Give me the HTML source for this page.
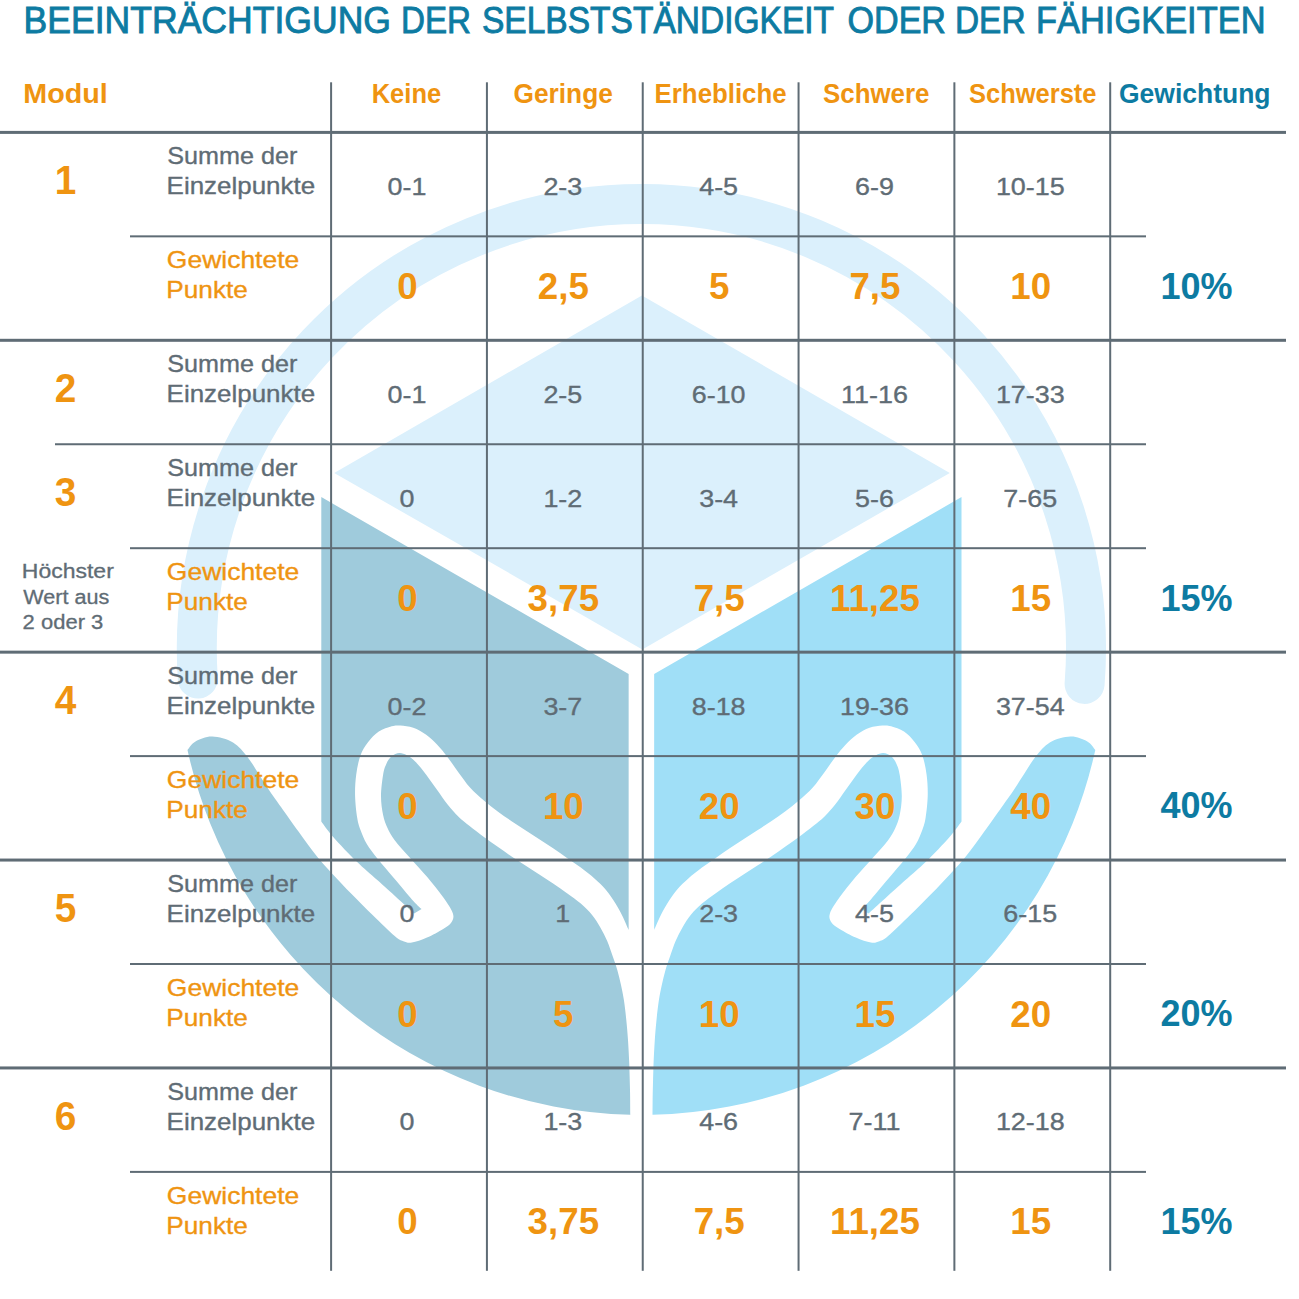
<!DOCTYPE html>
<html lang="de">
<head>
<meta charset="utf-8">
<title>Beeinträchtigung der Selbstständigkeit oder der Fähigkeiten</title>
<style>
html,body{margin:0;padding:0;background:#fff;}
body{width:1299px;height:1299px;overflow:hidden;}
svg{display:block;font-family:"Liberation Sans",sans-serif;}
</style>
</head>
<body>
<svg width="1299" height="1299" viewBox="0 0 1299 1299">
<defs>
<clipPath id="lhalf"><rect x="0" y="0" width="641.4" height="1299"/></clipPath>
<path id="hand" d="M630.3,1114.8A465.0,465.0 0 0 1 187.5,750C188.8,748.6 191.4,743.7 195.5,741.5C199.6,739.3 206.1,736.4 212.3,736.6C218.6,736.8 227.1,739.1 233.0,742.5C238.9,745.9 243.2,751.7 247.5,757.0C251.8,762.3 255.2,768.8 259.0,774.5C262.8,780.2 266.3,786.1 270.0,791.5C273.7,796.9 276.2,800.3 281.0,807.0C285.8,813.7 292.5,823.4 298.5,831.6C304.5,839.9 311.3,849.4 317.0,856.5C322.7,863.6 326.7,867.7 332.5,874.0C338.3,880.3 344.8,887.2 351.6,894.1C358.4,901.0 365.9,908.6 373.1,915.6C380.3,922.6 389.7,931.8 394.7,936.1C399.7,940.4 400.4,940.2 403.3,941.3C406.2,942.4 407.9,943.2 411.9,942.6C415.8,942.0 421.8,939.9 427.0,937.6C432.2,935.3 439.1,931.4 443.2,928.9C447.2,926.4 449.7,925.0 451.3,922.4C452.9,919.8 454.2,917.7 452.9,913.5C451.5,909.3 447.5,903.4 443.2,897.3C438.9,891.2 432.6,883.4 427.0,876.8C421.4,870.1 415.1,863.5 409.7,857.4C404.3,851.3 398.4,845.1 394.7,840.2C391.0,835.3 389.4,832.2 387.5,828.0C385.6,823.8 384.2,820.3 383.1,815.0C382.0,809.7 381.0,802.9 381.0,796.2C381.0,789.5 382.2,780.1 383.1,774.7C384.0,769.3 384.9,767.0 386.3,763.9C387.7,760.8 389.5,758.1 391.7,756.3C393.9,754.5 396.8,753.3 399.3,753.1C401.8,752.9 404.1,753.9 406.8,755.3C409.5,756.7 412.2,758.5 415.4,761.7C418.6,764.9 422.6,770.0 426.2,774.7C429.8,779.4 433.4,784.8 437.0,789.8C440.6,794.8 444.2,800.3 447.8,804.8C451.4,809.3 454.9,813.2 458.5,816.7C462.1,820.2 465.1,822.4 469.3,825.8C473.5,829.2 479.2,833.6 483.9,837.1C488.6,840.6 493.1,843.6 497.7,846.8C502.3,850.0 507.0,853.4 511.6,856.5C516.2,859.6 520.8,862.5 525.4,865.5C530.0,868.5 534.7,871.5 539.3,874.5C543.9,877.5 548.5,880.4 553.1,883.5C557.7,886.6 562.4,889.9 567.0,893.2C571.6,896.6 576.6,900.0 580.8,903.6C584.9,907.2 588.7,910.8 591.9,914.7C595.1,918.6 597.7,922.8 600.2,927.2C602.8,931.6 605.1,936.1 607.2,941.0C609.3,945.9 611.0,951.5 612.7,956.3C614.4,961.1 615.9,965.2 617.3,970.0C618.7,974.8 619.9,980.0 621.0,985.0C622.1,990.0 623.0,994.2 623.9,1000.0C624.8,1005.8 625.6,1013.3 626.3,1020.0C627.0,1026.7 627.5,1032.5 628.0,1040.0C628.5,1047.5 629.0,1056.7 629.3,1065.0C629.6,1073.3 629.8,1081.7 630.0,1090.0C630.2,1098.3 630.2,1110.7 630.3,1114.8Z"/>
<path id="face" d="M321.3,497.1L628.65,674L628.65,930C627.6,927.7 624.6,920.5 622.4,916.1C620.2,911.7 618.3,908.0 615.5,903.6C612.7,899.2 609.3,893.9 605.8,889.8C602.3,885.6 598.9,882.4 594.7,878.7C590.5,875.0 585.4,871.1 580.8,867.6C576.2,864.1 571.6,861.1 567.0,857.9C562.4,854.7 557.7,851.3 553.1,848.2C548.5,845.1 543.9,842.2 539.3,839.2C534.7,836.2 530.0,833.2 525.4,830.2C520.8,827.2 516.2,824.3 511.6,821.2C507.0,818.1 502.3,815.0 497.7,811.5C493.1,808.0 488.5,804.5 483.9,800.5C479.3,796.5 474.2,792.2 470.0,787.5C465.8,782.8 462.2,777.5 458.5,772.5C454.8,767.5 451.4,762.1 447.8,757.4C444.2,752.7 440.6,748.3 437.0,744.5C433.4,740.7 430.1,737.6 426.2,734.8C422.2,732.0 417.6,729.3 413.3,727.8C409.0,726.3 404.0,725.9 400.4,725.6C396.8,725.3 395.3,725.2 391.7,726.2C388.1,727.2 382.8,728.9 378.8,731.6C374.9,734.3 371.1,738.3 368.0,742.3C364.9,746.2 362.5,749.9 360.5,755.3C358.5,760.7 357.1,767.9 356.2,774.7C355.3,781.5 354.9,789.0 355.1,796.2C355.3,803.4 356.3,812.2 357.2,817.8C358.1,823.4 358.9,825.6 360.5,830.0C362.1,834.4 364.0,839.2 366.8,844.0C369.6,848.8 372.8,852.7 377.4,858.5C382.0,864.3 388.9,872.2 394.7,879.0C400.4,885.8 407.4,894.4 411.9,899.4C416.4,904.4 420.0,907.5 421.6,909.1L414.1,913.5C408.2,908.1 388.0,889.7 378.5,881.1C369.0,872.5 364.4,869.1 356.9,861.7C349.3,854.3 339.1,843.6 333.2,836.9C327.3,830.2 323.3,824.0 321.3,821.4Z"/>
</defs>
<rect width="1299" height="1299" fill="#fff"/>
<!-- watermark logo -->
<g id="logo">
<path d="M197.8,678.5A444.6,444.6 0 1 1 1084.6,683.9" fill="none" stroke="#dbf0fc" stroke-width="40" stroke-linecap="round"/>
<path d="M641.9,295.4L334.2,472.9L642.3,649.4L949.8,472.9Z" fill="#dbf0fc"/>
<g clip-path="url(#lhalf)">
<use href="#face" fill="#9fcbdc"/>
<use href="#hand" fill="#9fcbdc"/>
</g>
<g transform="translate(1282.8,0) scale(-1,1)"><g clip-path="url(#lhalf)">
<use href="#face" fill="#a0dff7"/>
<use href="#hand" fill="#a0dff7"/>
</g></g>
</g>

<g id="grid" fill="#5f6c75">
<rect x="330.10" y="82.3" width="2" height="1188.5"/>
<rect x="485.92" y="82.3" width="2" height="1188.5"/>
<rect x="641.74" y="82.3" width="2" height="1188.5"/>
<rect x="797.56" y="82.3" width="2" height="1188.5"/>
<rect x="953.38" y="82.3" width="2" height="1188.5"/>
<rect x="1109.20" y="82.3" width="2" height="1188.5"/>
<rect x="0" y="130.90" width="1286" height="3"/>
<rect x="130" y="235.35" width="1016" height="2"/>
<rect x="0" y="338.80" width="1286" height="3"/>
<rect x="55" y="443.25" width="1091" height="2"/>
<rect x="130" y="547.20" width="1016" height="2"/>
<rect x="0" y="650.65" width="1286" height="3"/>
<rect x="130" y="755.10" width="1016" height="2"/>
<rect x="0" y="858.55" width="1286" height="3"/>
<rect x="130" y="963.00" width="1016" height="2"/>
<rect x="0" y="1066.45" width="1286" height="3"/>
<rect x="130" y="1170.90" width="1016" height="2"/>
</g>
<g id="labels">
<text y="32.7" font-size="37.2" fill="#0d7ba2" stroke="#0d7ba2" stroke-width="0.9"><tspan x="23.5" textLength="367.5" lengthAdjust="spacingAndGlyphs">BEEINTRÄCHTIGUNG</tspan> <tspan x="401.0" textLength="70" lengthAdjust="spacingAndGlyphs">DER</tspan> <tspan x="482.0" textLength="351.5" lengthAdjust="spacingAndGlyphs">SELBSTSTÄNDIGKEIT</tspan> <tspan x="847.5" textLength="98.5" lengthAdjust="spacingAndGlyphs">ODER</tspan> <tspan x="955.0" textLength="70.5" lengthAdjust="spacingAndGlyphs">DER</tspan> <tspan x="1036.0" textLength="229.5" lengthAdjust="spacingAndGlyphs">FÄHIGKEITEN</tspan></text>
<text x="23.30" y="102.80" font-size="27" fill="#ef9411" font-weight="700" textLength="84.50" lengthAdjust="spacingAndGlyphs">Modul</text>
<text x="371.70" y="102.80" font-size="27" fill="#ef9411" font-weight="700" textLength="69.50" lengthAdjust="spacingAndGlyphs">Keine</text>
<text x="513.60" y="102.80" font-size="27" fill="#ef9411" font-weight="700" textLength="99.20" lengthAdjust="spacingAndGlyphs">Geringe</text>
<text x="654.60" y="102.80" font-size="27" fill="#ef9411" font-weight="700" textLength="132.00" lengthAdjust="spacingAndGlyphs">Erhebliche</text>
<text x="823.00" y="102.80" font-size="27" fill="#ef9411" font-weight="700" textLength="106.50" lengthAdjust="spacingAndGlyphs">Schwere</text>
<text x="969.00" y="102.80" font-size="27" fill="#ef9411" font-weight="700" textLength="127.50" lengthAdjust="spacingAndGlyphs">Schwerste</text>
<text x="1119.00" y="102.80" font-size="27" fill="#0d7ba2" font-weight="700" textLength="151.50" lengthAdjust="spacingAndGlyphs">Gewichtung</text>
<text x="65.60" y="194.20" font-size="40" fill="#ef9411" font-weight="700" text-anchor="middle" textLength="21.58" lengthAdjust="spacingAndGlyphs">1</text>
<text x="167.30" y="164.20" font-size="24" fill="#5f6c75" textLength="130.00" lengthAdjust="spacingAndGlyphs" stroke="#5f6c75" stroke-width="0.35">Summe der</text>
<text x="166.60" y="194.30" font-size="24" fill="#5f6c75" textLength="148.50" lengthAdjust="spacingAndGlyphs" stroke="#5f6c75" stroke-width="0.35">Einzelpunkte</text>
<text x="407.01" y="194.80" font-size="24" fill="#5f6c75" text-anchor="middle" textLength="38.85" lengthAdjust="spacingAndGlyphs" stroke="#5f6c75" stroke-width="0.35">0-1</text>
<text x="562.83" y="194.80" font-size="24" fill="#5f6c75" text-anchor="middle" textLength="38.85" lengthAdjust="spacingAndGlyphs" stroke="#5f6c75" stroke-width="0.35">2-3</text>
<text x="718.65" y="194.80" font-size="24" fill="#5f6c75" text-anchor="middle" textLength="38.85" lengthAdjust="spacingAndGlyphs" stroke="#5f6c75" stroke-width="0.35">4-5</text>
<text x="874.47" y="194.80" font-size="24" fill="#5f6c75" text-anchor="middle" textLength="38.85" lengthAdjust="spacingAndGlyphs" stroke="#5f6c75" stroke-width="0.35">6-9</text>
<text x="1030.29" y="194.80" font-size="24" fill="#5f6c75" text-anchor="middle" textLength="68.75" lengthAdjust="spacingAndGlyphs" stroke="#5f6c75" stroke-width="0.35">10-15</text>
<text x="166.80" y="268.15" font-size="24" fill="#ef9411" textLength="132.50" lengthAdjust="spacingAndGlyphs" stroke="#ef9411" stroke-width="0.35">Gewichtete</text>
<text x="166.30" y="298.25" font-size="24" fill="#ef9411" textLength="81.50" lengthAdjust="spacingAndGlyphs" stroke="#ef9411" stroke-width="0.35">Punkte</text>
<text x="407.51" y="298.85" font-size="36" fill="#ef9411" font-weight="700" text-anchor="middle" textLength="20.42" lengthAdjust="spacingAndGlyphs">0</text>
<text x="563.33" y="298.85" font-size="36" fill="#ef9411" font-weight="700" text-anchor="middle" textLength="51.05" lengthAdjust="spacingAndGlyphs">2,5</text>
<text x="719.15" y="298.85" font-size="36" fill="#ef9411" font-weight="700" text-anchor="middle" textLength="20.42" lengthAdjust="spacingAndGlyphs">5</text>
<text x="874.97" y="298.85" font-size="36" fill="#ef9411" font-weight="700" text-anchor="middle" textLength="51.05" lengthAdjust="spacingAndGlyphs">7,5</text>
<text x="1030.79" y="298.85" font-size="36" fill="#ef9411" font-weight="700" text-anchor="middle" textLength="40.85" lengthAdjust="spacingAndGlyphs">10</text>
<text x="1196.60" y="298.65" font-size="36" fill="#0d7ba2" font-weight="700" text-anchor="middle" textLength="72.05" lengthAdjust="spacingAndGlyphs">10%</text>
<text x="65.60" y="402.10" font-size="40" fill="#ef9411" font-weight="700" text-anchor="middle" textLength="21.58" lengthAdjust="spacingAndGlyphs">2</text>
<text x="167.30" y="372.10" font-size="24" fill="#5f6c75" textLength="130.00" lengthAdjust="spacingAndGlyphs" stroke="#5f6c75" stroke-width="0.35">Summe der</text>
<text x="166.60" y="402.20" font-size="24" fill="#5f6c75" textLength="148.50" lengthAdjust="spacingAndGlyphs" stroke="#5f6c75" stroke-width="0.35">Einzelpunkte</text>
<text x="407.01" y="402.70" font-size="24" fill="#5f6c75" text-anchor="middle" textLength="38.85" lengthAdjust="spacingAndGlyphs" stroke="#5f6c75" stroke-width="0.35">0-1</text>
<text x="562.83" y="402.70" font-size="24" fill="#5f6c75" text-anchor="middle" textLength="38.85" lengthAdjust="spacingAndGlyphs" stroke="#5f6c75" stroke-width="0.35">2-5</text>
<text x="718.65" y="402.70" font-size="24" fill="#5f6c75" text-anchor="middle" textLength="53.80" lengthAdjust="spacingAndGlyphs" stroke="#5f6c75" stroke-width="0.35">6-10</text>
<text x="874.47" y="402.70" font-size="24" fill="#5f6c75" text-anchor="middle" textLength="66.76" lengthAdjust="spacingAndGlyphs" stroke="#5f6c75" stroke-width="0.35">11-16</text>
<text x="1030.29" y="402.70" font-size="24" fill="#5f6c75" text-anchor="middle" textLength="68.75" lengthAdjust="spacingAndGlyphs" stroke="#5f6c75" stroke-width="0.35">17-33</text>
<text x="65.60" y="506.05" font-size="40" fill="#ef9411" font-weight="700" text-anchor="middle" textLength="21.58" lengthAdjust="spacingAndGlyphs">3</text>
<text x="167.30" y="476.05" font-size="24" fill="#5f6c75" textLength="130.00" lengthAdjust="spacingAndGlyphs" stroke="#5f6c75" stroke-width="0.35">Summe der</text>
<text x="166.60" y="506.15" font-size="24" fill="#5f6c75" textLength="148.50" lengthAdjust="spacingAndGlyphs" stroke="#5f6c75" stroke-width="0.35">Einzelpunkte</text>
<text x="407.01" y="506.65" font-size="24" fill="#5f6c75" text-anchor="middle" textLength="14.95" lengthAdjust="spacingAndGlyphs" stroke="#5f6c75" stroke-width="0.35">0</text>
<text x="562.83" y="506.65" font-size="24" fill="#5f6c75" text-anchor="middle" textLength="38.85" lengthAdjust="spacingAndGlyphs" stroke="#5f6c75" stroke-width="0.35">1-2</text>
<text x="718.65" y="506.65" font-size="24" fill="#5f6c75" text-anchor="middle" textLength="38.85" lengthAdjust="spacingAndGlyphs" stroke="#5f6c75" stroke-width="0.35">3-4</text>
<text x="874.47" y="506.65" font-size="24" fill="#5f6c75" text-anchor="middle" textLength="38.85" lengthAdjust="spacingAndGlyphs" stroke="#5f6c75" stroke-width="0.35">5-6</text>
<text x="1030.29" y="506.65" font-size="24" fill="#5f6c75" text-anchor="middle" textLength="53.80" lengthAdjust="spacingAndGlyphs" stroke="#5f6c75" stroke-width="0.35">7-65</text>
<text x="166.80" y="580.00" font-size="24" fill="#ef9411" textLength="132.50" lengthAdjust="spacingAndGlyphs" stroke="#ef9411" stroke-width="0.35">Gewichtete</text>
<text x="166.30" y="610.10" font-size="24" fill="#ef9411" textLength="81.50" lengthAdjust="spacingAndGlyphs" stroke="#ef9411" stroke-width="0.35">Punkte</text>
<text x="407.51" y="610.70" font-size="36" fill="#ef9411" font-weight="700" text-anchor="middle" textLength="20.42" lengthAdjust="spacingAndGlyphs">0</text>
<text x="563.33" y="610.70" font-size="36" fill="#ef9411" font-weight="700" text-anchor="middle" textLength="71.47" lengthAdjust="spacingAndGlyphs">3,75</text>
<text x="719.15" y="610.70" font-size="36" fill="#ef9411" font-weight="700" text-anchor="middle" textLength="51.05" lengthAdjust="spacingAndGlyphs">7,5</text>
<text x="874.97" y="610.70" font-size="36" fill="#ef9411" font-weight="700" text-anchor="middle" textLength="89.87" lengthAdjust="spacingAndGlyphs">11,25</text>
<text x="1030.79" y="610.70" font-size="36" fill="#ef9411" font-weight="700" text-anchor="middle" textLength="40.85" lengthAdjust="spacingAndGlyphs">15</text>
<text x="1196.60" y="610.50" font-size="36" fill="#0d7ba2" font-weight="700" text-anchor="middle" textLength="72.05" lengthAdjust="spacingAndGlyphs">15%</text>
<text x="65.60" y="713.95" font-size="40" fill="#ef9411" font-weight="700" text-anchor="middle" textLength="21.58" lengthAdjust="spacingAndGlyphs">4</text>
<text x="167.30" y="683.95" font-size="24" fill="#5f6c75" textLength="130.00" lengthAdjust="spacingAndGlyphs" stroke="#5f6c75" stroke-width="0.35">Summe der</text>
<text x="166.60" y="714.05" font-size="24" fill="#5f6c75" textLength="148.50" lengthAdjust="spacingAndGlyphs" stroke="#5f6c75" stroke-width="0.35">Einzelpunkte</text>
<text x="407.01" y="714.55" font-size="24" fill="#5f6c75" text-anchor="middle" textLength="38.85" lengthAdjust="spacingAndGlyphs" stroke="#5f6c75" stroke-width="0.35">0-2</text>
<text x="562.83" y="714.55" font-size="24" fill="#5f6c75" text-anchor="middle" textLength="38.85" lengthAdjust="spacingAndGlyphs" stroke="#5f6c75" stroke-width="0.35">3-7</text>
<text x="718.65" y="714.55" font-size="24" fill="#5f6c75" text-anchor="middle" textLength="53.80" lengthAdjust="spacingAndGlyphs" stroke="#5f6c75" stroke-width="0.35">8-18</text>
<text x="874.47" y="714.55" font-size="24" fill="#5f6c75" text-anchor="middle" textLength="68.75" lengthAdjust="spacingAndGlyphs" stroke="#5f6c75" stroke-width="0.35">19-36</text>
<text x="1030.29" y="714.55" font-size="24" fill="#5f6c75" text-anchor="middle" textLength="68.75" lengthAdjust="spacingAndGlyphs" stroke="#5f6c75" stroke-width="0.35">37-54</text>
<text x="166.80" y="787.90" font-size="24" fill="#ef9411" textLength="132.50" lengthAdjust="spacingAndGlyphs" stroke="#ef9411" stroke-width="0.35">Gewichtete</text>
<text x="166.30" y="818.00" font-size="24" fill="#ef9411" textLength="81.50" lengthAdjust="spacingAndGlyphs" stroke="#ef9411" stroke-width="0.35">Punkte</text>
<text x="407.51" y="818.60" font-size="36" fill="#ef9411" font-weight="700" text-anchor="middle" textLength="20.42" lengthAdjust="spacingAndGlyphs">0</text>
<text x="563.33" y="818.60" font-size="36" fill="#ef9411" font-weight="700" text-anchor="middle" textLength="40.85" lengthAdjust="spacingAndGlyphs">10</text>
<text x="719.15" y="818.60" font-size="36" fill="#ef9411" font-weight="700" text-anchor="middle" textLength="40.85" lengthAdjust="spacingAndGlyphs">20</text>
<text x="874.97" y="818.60" font-size="36" fill="#ef9411" font-weight="700" text-anchor="middle" textLength="40.85" lengthAdjust="spacingAndGlyphs">30</text>
<text x="1030.79" y="818.60" font-size="36" fill="#ef9411" font-weight="700" text-anchor="middle" textLength="40.85" lengthAdjust="spacingAndGlyphs">40</text>
<text x="1196.60" y="818.40" font-size="36" fill="#0d7ba2" font-weight="700" text-anchor="middle" textLength="72.05" lengthAdjust="spacingAndGlyphs">40%</text>
<text x="65.60" y="921.85" font-size="40" fill="#ef9411" font-weight="700" text-anchor="middle" textLength="21.58" lengthAdjust="spacingAndGlyphs">5</text>
<text x="167.30" y="891.85" font-size="24" fill="#5f6c75" textLength="130.00" lengthAdjust="spacingAndGlyphs" stroke="#5f6c75" stroke-width="0.35">Summe der</text>
<text x="166.60" y="921.95" font-size="24" fill="#5f6c75" textLength="148.50" lengthAdjust="spacingAndGlyphs" stroke="#5f6c75" stroke-width="0.35">Einzelpunkte</text>
<text x="407.01" y="922.45" font-size="24" fill="#5f6c75" text-anchor="middle" textLength="14.95" lengthAdjust="spacingAndGlyphs" stroke="#5f6c75" stroke-width="0.35">0</text>
<text x="562.83" y="922.45" font-size="24" fill="#5f6c75" text-anchor="middle" textLength="14.95" lengthAdjust="spacingAndGlyphs" stroke="#5f6c75" stroke-width="0.35">1</text>
<text x="718.65" y="922.45" font-size="24" fill="#5f6c75" text-anchor="middle" textLength="38.85" lengthAdjust="spacingAndGlyphs" stroke="#5f6c75" stroke-width="0.35">2-3</text>
<text x="874.47" y="922.45" font-size="24" fill="#5f6c75" text-anchor="middle" textLength="38.85" lengthAdjust="spacingAndGlyphs" stroke="#5f6c75" stroke-width="0.35">4-5</text>
<text x="1030.29" y="922.45" font-size="24" fill="#5f6c75" text-anchor="middle" textLength="53.80" lengthAdjust="spacingAndGlyphs" stroke="#5f6c75" stroke-width="0.35">6-15</text>
<text x="166.80" y="995.80" font-size="24" fill="#ef9411" textLength="132.50" lengthAdjust="spacingAndGlyphs" stroke="#ef9411" stroke-width="0.35">Gewichtete</text>
<text x="166.30" y="1025.90" font-size="24" fill="#ef9411" textLength="81.50" lengthAdjust="spacingAndGlyphs" stroke="#ef9411" stroke-width="0.35">Punkte</text>
<text x="407.51" y="1026.50" font-size="36" fill="#ef9411" font-weight="700" text-anchor="middle" textLength="20.42" lengthAdjust="spacingAndGlyphs">0</text>
<text x="563.33" y="1026.50" font-size="36" fill="#ef9411" font-weight="700" text-anchor="middle" textLength="20.42" lengthAdjust="spacingAndGlyphs">5</text>
<text x="719.15" y="1026.50" font-size="36" fill="#ef9411" font-weight="700" text-anchor="middle" textLength="40.85" lengthAdjust="spacingAndGlyphs">10</text>
<text x="874.97" y="1026.50" font-size="36" fill="#ef9411" font-weight="700" text-anchor="middle" textLength="40.85" lengthAdjust="spacingAndGlyphs">15</text>
<text x="1030.79" y="1026.50" font-size="36" fill="#ef9411" font-weight="700" text-anchor="middle" textLength="40.85" lengthAdjust="spacingAndGlyphs">20</text>
<text x="1196.60" y="1026.30" font-size="36" fill="#0d7ba2" font-weight="700" text-anchor="middle" textLength="72.05" lengthAdjust="spacingAndGlyphs">20%</text>
<text x="65.60" y="1129.75" font-size="40" fill="#ef9411" font-weight="700" text-anchor="middle" textLength="21.58" lengthAdjust="spacingAndGlyphs">6</text>
<text x="167.30" y="1099.75" font-size="24" fill="#5f6c75" textLength="130.00" lengthAdjust="spacingAndGlyphs" stroke="#5f6c75" stroke-width="0.35">Summe der</text>
<text x="166.60" y="1129.85" font-size="24" fill="#5f6c75" textLength="148.50" lengthAdjust="spacingAndGlyphs" stroke="#5f6c75" stroke-width="0.35">Einzelpunkte</text>
<text x="407.01" y="1130.35" font-size="24" fill="#5f6c75" text-anchor="middle" textLength="14.95" lengthAdjust="spacingAndGlyphs" stroke="#5f6c75" stroke-width="0.35">0</text>
<text x="562.83" y="1130.35" font-size="24" fill="#5f6c75" text-anchor="middle" textLength="38.85" lengthAdjust="spacingAndGlyphs" stroke="#5f6c75" stroke-width="0.35">1-3</text>
<text x="718.65" y="1130.35" font-size="24" fill="#5f6c75" text-anchor="middle" textLength="38.85" lengthAdjust="spacingAndGlyphs" stroke="#5f6c75" stroke-width="0.35">4-6</text>
<text x="874.47" y="1130.35" font-size="24" fill="#5f6c75" text-anchor="middle" textLength="51.81" lengthAdjust="spacingAndGlyphs" stroke="#5f6c75" stroke-width="0.35">7-11</text>
<text x="1030.29" y="1130.35" font-size="24" fill="#5f6c75" text-anchor="middle" textLength="68.75" lengthAdjust="spacingAndGlyphs" stroke="#5f6c75" stroke-width="0.35">12-18</text>
<text x="166.80" y="1203.70" font-size="24" fill="#ef9411" textLength="132.50" lengthAdjust="spacingAndGlyphs" stroke="#ef9411" stroke-width="0.35">Gewichtete</text>
<text x="166.30" y="1233.80" font-size="24" fill="#ef9411" textLength="81.50" lengthAdjust="spacingAndGlyphs" stroke="#ef9411" stroke-width="0.35">Punkte</text>
<text x="407.51" y="1234.40" font-size="36" fill="#ef9411" font-weight="700" text-anchor="middle" textLength="20.42" lengthAdjust="spacingAndGlyphs">0</text>
<text x="563.33" y="1234.40" font-size="36" fill="#ef9411" font-weight="700" text-anchor="middle" textLength="71.47" lengthAdjust="spacingAndGlyphs">3,75</text>
<text x="719.15" y="1234.40" font-size="36" fill="#ef9411" font-weight="700" text-anchor="middle" textLength="51.05" lengthAdjust="spacingAndGlyphs">7,5</text>
<text x="874.97" y="1234.40" font-size="36" fill="#ef9411" font-weight="700" text-anchor="middle" textLength="89.87" lengthAdjust="spacingAndGlyphs">11,25</text>
<text x="1030.79" y="1234.40" font-size="36" fill="#ef9411" font-weight="700" text-anchor="middle" textLength="40.85" lengthAdjust="spacingAndGlyphs">15</text>
<text x="1196.60" y="1234.20" font-size="36" fill="#0d7ba2" font-weight="700" text-anchor="middle" textLength="72.05" lengthAdjust="spacingAndGlyphs">15%</text>
<text x="21.80" y="578.20" font-size="20" fill="#5f6c75" textLength="92.00" lengthAdjust="spacingAndGlyphs" stroke="#5f6c75" stroke-width="0.3">Höchster</text>
<text x="23.20" y="603.70" font-size="20" fill="#5f6c75" textLength="86.03" lengthAdjust="spacingAndGlyphs" stroke="#5f6c75" stroke-width="0.3">Wert aus</text>
<text x="22.60" y="629.20" font-size="20" fill="#5f6c75" textLength="80.73" lengthAdjust="spacingAndGlyphs" stroke="#5f6c75" stroke-width="0.3">2 oder 3</text>
</g>
</svg>
</body>
</html>
